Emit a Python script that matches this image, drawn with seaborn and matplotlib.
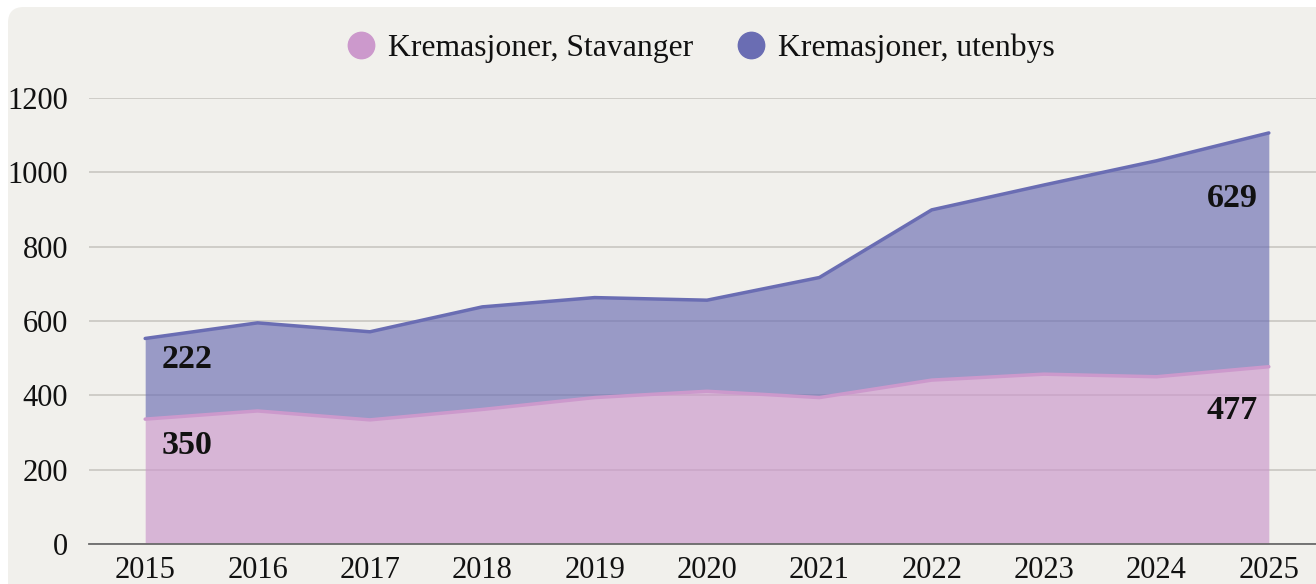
import numpy as np
import pandas as pd
import matplotlib
matplotlib.use("Agg")
import matplotlib.pyplot as plt
from matplotlib.patches import FancyBboxPatch
from matplotlib.lines import Line2D
import seaborn as sns

# ---- data ----
years = [2015, 2016, 2017, 2018, 2019, 2020, 2021, 2022, 2023, 2024, 2025]
stavanger = [336, 358, 334, 362, 394, 411, 394, 441, 457, 450, 477]
utenbys = [217, 237, 237, 276, 269, 245, 323, 458, 509, 581, 629]
series_names = ["Kremasjoner, Stavanger", "Kremasjoner, utenbys"]
yticks = [0, 200, 400, 600, 800, 1000, 1200]
label_years = [2015, 2025]
label_stavanger = [350, 477]
label_utenbys = [222, 629]

# ---- style ----
sns.set_theme(style="white")
plt.rcParams['font.family'] = ['Liberation Serif', 'DejaVu Serif']

bg = "#f1f0ec"
pink_line = "#cc99cc"
purple_line = "#6a6db3"
txt = "#111111"

df = pd.DataFrame({"year": years, "stav": stavanger, "uten": utenbys})
df["total"] = df["stav"] + df["uten"]

W, H = 1316, 584
fig = plt.figure(figsize=(W / 100, H / 100), dpi=100, facecolor="white")
fig.patches.append(FancyBboxPatch((8 / W, -0.1), (W - 8) / W + 0.1, (H - 7) / H + 0.1,
                                  boxstyle="round,pad=0,rounding_size=0.012",
                                  transform=fig.transFigure, facecolor=bg,
                                  edgecolor="none", zorder=-10,
                                  mutation_aspect=W / H))

ax = fig.add_axes([89 / W, 40 / H, (1325 - 89) / W, (544 - 98) / H])
ax.patch.set_alpha(0)

ax.fill_between(df["year"], 0, df["stav"], color=pink_line, alpha=0.68,
                linewidth=0, zorder=2)
ax.fill_between(df["year"], df["stav"], df["total"], color=purple_line, alpha=0.65,
                linewidth=0, zorder=2)
sns.lineplot(data=df, x="year", y="stav", ax=ax, color=pink_line, linewidth=2.5,
             zorder=3, legend=False)
sns.lineplot(data=df, x="year", y="total", ax=ax, color=purple_line, linewidth=2.5,
             zorder=4, legend=False)

ax.set_xlim(2014.5, 2025.5)
ax.set_ylim(0, 1200)
ax.set_yticks(yticks)
ax.set_xticks(years)
ax.set_xticklabels([str(y) for y in years])
ax.grid(axis="y", color="#c9c7c1", linewidth=1.2, zorder=1)
ax.grid(axis="x", visible=False)
ax.set_axisbelow(True)
for s in ["top", "right", "left"]:
    ax.spines[s].set_visible(False)
ax.spines["bottom"].set_color("#6b6b6b")
ax.spines["bottom"].set_linewidth(1.3)
ax.spines["bottom"].set_zorder(5)
ax.tick_params(axis="both", length=0, labelsize=22, colors=txt)
ax.tick_params(axis="y", pad=15)
ax.tick_params(axis="x", pad=9)
ax.set_xlabel("")
ax.set_ylabel("")

# value labels
lab = dict(zip(label_years, zip(label_stavanger, label_utenbys)))
d0 = df.set_index("year")
for yr, (sv, uv) in lab.items():
    tot = d0.loc[yr, "total"]
    st = d0.loc[yr, "stav"]
    if yr == label_years[0]:
        kw = dict(ha="left", xytext_u=(16, -21), xytext_s=(16, -26))
    else:
        kw = dict(ha="right", xytext_u=(-11, -66), xytext_s=(-11, -44))
    ax.annotate(str(uv), (yr, tot), xytext=kw["xytext_u"], textcoords="offset pixels",
                ha=kw["ha"], va="center", fontsize=24.5, fontweight="bold", color=txt, zorder=6)
    ax.annotate(str(sv), (yr, st), xytext=kw["xytext_s"], textcoords="offset pixels",
                ha=kw["ha"], va="center", fontsize=24.5, fontweight="bold", color=txt, zorder=6)

handles = [Line2D([], [], marker="o", linestyle="none", markersize=19,
                  markerfacecolor=c, markeredgecolor=c)
           for c in [pink_line, purple_line]]
fig.legend(handles, series_names, loc="center", bbox_to_anchor=(700 / W, 1 - 48 / H),
           ncol=2, frameon=False, fontsize=22.8, handletextpad=0.35, columnspacing=1.35,
           handlelength=1.0, labelcolor=txt)

fig.savefig("out.png", dpi=100, facecolor="white")
